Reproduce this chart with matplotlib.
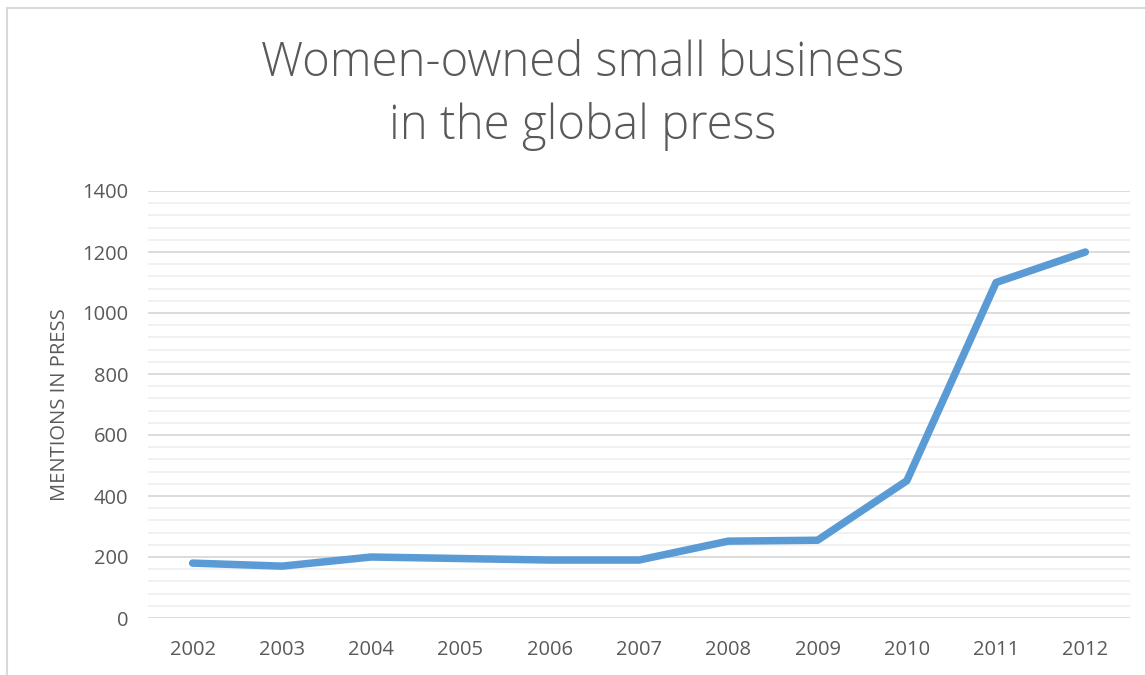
import matplotlib.pyplot as plt
from matplotlib.patches import Rectangle
from matplotlib.ticker import MultipleLocator

# data
years = ["2002", "2003", "2004", "2005", "2006", "2007", "2008", "2009", "2010", "2011", "2012"]
mentions = [180, 170, 200, 195, 190, 190, 252, 255, 450, 1100, 1200]

TEXT = "#595959"
plt.rcParams['font.family'] = ['Open Sans', 'DejaVu Sans']

fig = plt.figure(figsize=(11.45, 6.75), dpi=100)
W, H = 1145, 675

# chart border (only top and left visible in the crop)
fig.patches.append(Rectangle((7 / W, -0.1), 1.2, 1 - 8 / H + 0.1, transform=fig.transFigure,
                             fill=False, edgecolor="#D9D9D9", lw=1.5))

ax = fig.add_axes([148 / W, (H - 618) / H, 982 / W, 427 / H])
x = list(range(len(years)))
ax.plot(x, mentions, color="#5B9BD5", lw=5.4, solid_capstyle="round", solid_joinstyle="round", zorder=3)

ax.set_xlim(-0.5, len(years) - 0.5)
ax.set_ylim(0, 1400)
ax.yaxis.set_major_locator(MultipleLocator(200))
ax.yaxis.set_minor_locator(MultipleLocator(40))
ax.grid(axis="y", which="major", color="#D9D9D9", lw=1.3)
ax.grid(axis="y", which="minor", color="#F0F0F0", lw=1.3)
ax.set_axisbelow(True)
ax.set_xticks(x)
ax.set_xticklabels(years)
for s in ax.spines.values():
    s.set_visible(False)
ax.tick_params(which="both", length=0, labelsize=14.5, labelcolor=TEXT)
ax.tick_params(axis="x", pad=16)
ax.tick_params(axis="y", pad=14)
ax.set_ylabel("MENTIONS IN PRESS", fontsize=14.5, color=TEXT, labelpad=9)

fig.text(583 / W, 1 - 95 / H, "Women-owned small business\nin the global press",
         ha="center", va="center", fontsize=34, color=TEXT, fontweight="light", linespacing=1.38)

fig.savefig("out.png", dpi=100)
